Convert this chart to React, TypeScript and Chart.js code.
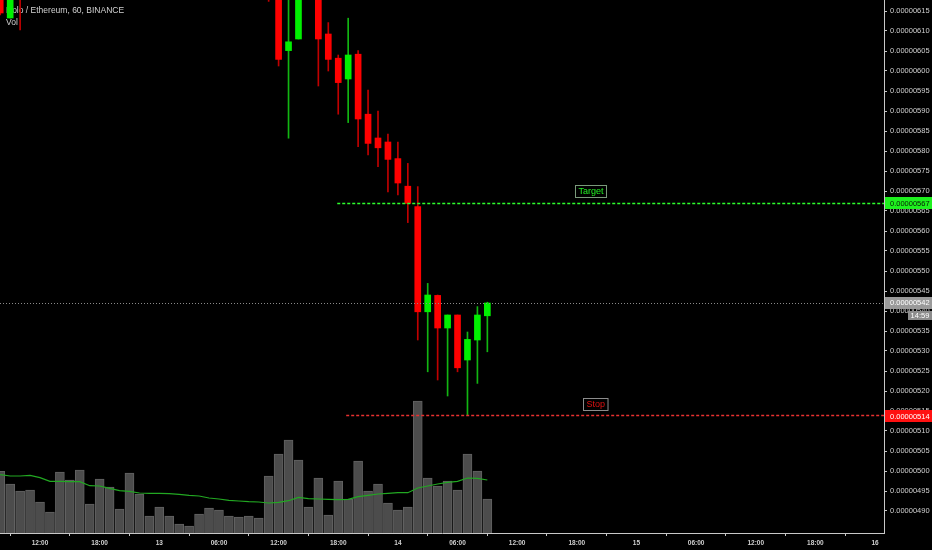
import React, { useEffect, useRef } from 'react';
import { Chart, registerables } from 'chart.js';

Chart.register(...registerables);

// Hourly candles, index 0 = 12th 08:00. Prices in units of 0.00000001 ETH.
// null = candle lies entirely above the visible price range.
const candleIndex = [
  0, 1, 2, 3, 4, 5, 6, 7, 8, 9, 10, 11, 12, 13, 14, 15, 16, 17, 18, 19, 20, 21, 22, 23, 24,
  25, 26, 27, 28, 29, 30, 31, 32, 33, 34, 35, 36, 37, 38, 39, 40, 41, 42, 43, 44, 45, 46, 47, 48, 49,
];
const N = null;
const priceOpen = [
  622, 613.25, 625, N, N, N, N, N, N, N, N, N, N, N, N, N, N, N, N, N, N, N, N, N, N,
  N, N, 624, 622, 605.1, 608, N, 621, 609.25, 603.2, 598, 604.2, 589.2, 583.25, 582.25,
  578.1, 571.2, 566.1, 539.8, 543.9, 535.75, 539, 527.75, 532.75, 538.8,
];
const priceHigh = [
  624, 624, 626, N, N, N, N, N, N, N, N, N, N, N, N, N, N, N, N, N, N, N, N, N, N,
  N, N, 626, 624, 620, 625, N, 622, 612.1, 604, 613.2, 605.1, 595.25, 590, 584.25,
  582.2, 576.9, 571.1, 546.9, 544, 539, 539, 534.75, 541.1, 542.2,
];
const priceLow = [
  614, 613.25, 610.25, N, N, N, N, N, N, N, N, N, N, N, N, N, N, N, N, N, N, N, N, N, N,
  N, N, 617.4, 601.25, 583.2, 608, N, 596.25, 600, 589.2, 587.1, 581.1, 579, 576.1, 569.8,
  569, 562.1, 532.75, 524.8, 522.75, 518.75, 524.8, 514, 521.9, 529.8,
];
const priceClose = [
  614.5, 622, 620, N, N, N, N, N, N, N, N, N, N, N, N, N, N, N, N, N, N, N, N, N, N,
  N, N, 620, 602.9, 607.3, 622, N, 608, 602.9, 597.1, 604, 588, 581.9, 580.8, 577.9,
  572, 566.9, 539.8, 544, 535.75, 539, 525.8, 532.9, 539, 542,
];
const volume = [
  61.6, 49, 42, 43, 31, 21, 61, 53, 63, 29, 54, 46, 24, 60, 39, 17, 26, 17, 9, 7,
  19, 25, 23, 17, 16, 17, 15, 57, 79, 93, 73, 26, 55, 18, 52, 34, 72, 42, 49, 30,
  23, 26, 132, 55, 47, 52, 43, 79, 62, 34,
];
const volumeMA = [
  58.3, 57, 57, 57.6, 55.3, 51.6, 51.6, 51.3, 51.3, 47.3, 47, 44.6, 42.3, 41.6, 40, 39.6,
  39.6, 39.3, 38.6, 37.6, 37, 35, 34, 32.6, 32, 31.3, 31, 30, 30.6, 32.3, 35.6, 34.3, 34,
  33.6, 33.3, 33.6, 36.3, 37.6, 39, 39.6, 40.3, 40.3, 45, 47, 49, 50.6, 51.6, 55, 54.6, 53,
];

const timeTickIndex = [4, 10, 16, 22, 28, 34, 40, 46, 52, 58, 64, 70, 76, 82, 88];
const timeTickLabels = [
  '12:00', '18:00', '13', '06:00', '12:00', '18:00', '14', '06:00', '12:00', '18:00',
  '15', '06:00', '12:00', '18:00', '16',
];
const priceTicks = [
  490, 495, 500, 505, 510, 515, 520, 525, 530, 535, 540, 545, 550, 555, 560, 565, 570,
  575, 580, 585, 590, 595, 600, 605, 610, 615,
];

const targetPrice = 567;
const stopPrice = 514;
const targetStart = 33.9;
const stopStart = 34.8;
const labelIndexTarget = 59.4;
const labelIndexStop = 59.9;
const countdown = '14:59';
const titleText = 'Holo / Ethereum, 60, BINANCE';

const fmt = (v: number) => (v * 1e-8).toFixed(8);

export default function App() {
  const ref = useRef<HTMLCanvasElement | null>(null);

  useEffect(() => {
    document.body.style.margin = '0';
    document.body.style.background = '#000';
    const canvas = ref.current;
    if (!canvas) return;

    const bodies: any[] = [];
    const bodyColors: string[] = [];
    const wicks: any[] = [];
    const wickColors: string[] = [];
    candleIndex.forEach((i) => {
      const o = priceOpen[i];
      const c = priceClose[i];
      const h = priceHigh[i];
      const l = priceLow[i];
      if (o == null || c == null || h == null || l == null) return;
      const up = c >= o;
      bodies.push({ x: i, y: [o, c] });
      bodyColors.push(up ? '#00f000' : '#ff0000');
      wicks.push({ x: i, y: [l, h] });
      wickColors.push(up ? '#12b512' : '#c00000');
    });
    const lastClose = priceClose[priceClose.length - 1] as number;

    const noPad = (s: any) => {
      s.paddingTop = 0;
      s.paddingBottom = 0;
      s.paddingLeft = 0;
      s.paddingRight = 0;
    };

    const plugin = {
      id: 'tvOverlay',
      beforeDraw(chart: any) {
        const { ctx, width, height } = chart;
        ctx.save();
        ctx.fillStyle = '#000';
        ctx.fillRect(0, 0, width, height);
        ctx.restore();
      },
      beforeDatasetsDraw(chart: any) {
        const { ctx } = chart;
        ctx.save();
        ctx.fillStyle = '#d2d2d2';
        ctx.font = '8.5px "Liberation Sans"';
        ctx.textBaseline = 'alphabetic';
        ctx.textAlign = 'left';
        ctx.fillText(titleText, 6, 13);
        ctx.fillText('Vol', 6, 25);
        ctx.restore();
      },
      afterDatasetsDraw(chart: any) {
        const { ctx, chartArea } = chart;
        const xs = chart.scales.x;
        const ys = chart.scales.y;
        ctx.save();
        const yc = Math.round(ys.getPixelForValue(lastClose)) + 0.5;
        ctx.strokeStyle = '#8a8a8a';
        ctx.lineWidth = 1;
        ctx.setLineDash([1, 2]);
        ctx.beginPath();
        ctx.moveTo(chartArea.left, yc);
        ctx.lineTo(chartArea.right, yc);
        ctx.stroke();
        const yt = Math.round(ys.getPixelForValue(targetPrice)) + 0.5;
        ctx.strokeStyle = '#2cff2c';
        ctx.lineWidth = 1.3;
        ctx.setLineDash([3, 2]);
        ctx.beginPath();
        ctx.moveTo(xs.getPixelForValue(targetStart), yt);
        ctx.lineTo(chartArea.right, yt);
        ctx.stroke();
        const yst = Math.round(ys.getPixelForValue(stopPrice)) + 0.5;
        ctx.strokeStyle = '#e83030';
        ctx.beginPath();
        ctx.moveTo(xs.getPixelForValue(stopStart), yst);
        ctx.lineTo(chartArea.right, yst);
        ctx.stroke();
        ctx.setLineDash([]);
        const drawLabel = (text: string, cx: number, bottom: number, color: string, border: string) => {
          ctx.font = '9px "Liberation Sans"';
          const w = ctx.measureText(text).width + 6;
          const h = 12;
          const x0 = Math.round(cx - w / 2) + 0.5;
          const y0 = Math.round(bottom - h) + 0.5;
          ctx.fillStyle = '#000';
          ctx.fillRect(x0, y0, w, h);
          ctx.strokeStyle = border;
          ctx.lineWidth = 1;
          ctx.strokeRect(x0, y0, w, h);
          ctx.fillStyle = color;
          ctx.textAlign = 'center';
          ctx.textBaseline = 'middle';
          ctx.fillText(text, x0 + w / 2, y0 + h / 2 + 0.5);
        };
        drawLabel('Target', xs.getPixelForValue(labelIndexTarget), yt - 7, '#22ee22', '#7a9a7a');
        drawLabel('Stop', xs.getPixelForValue(labelIndexStop), yst - 6, '#dd1111', '#8c8c8c');
        ctx.restore();
      },
      afterDraw(chart: any) {
        const { ctx, chartArea, width } = chart;
        const ys = chart.scales.y;
        ctx.save();
        ctx.font = '7.5px "Liberation Sans"';
        ctx.textBaseline = 'middle';
        ctx.textAlign = 'left';
        const box = (price: number, bg: string, fg: string, dy = 0) => {
          const y = ys.getPixelForValue(price) + dy;
          ctx.fillStyle = bg;
          ctx.fillRect(chartArea.right + 1, Math.round(y - 6), width - chartArea.right - 1, 12);
          ctx.fillStyle = fg;
          ctx.fillText(fmt(price), chartArea.right + 6, y + 0.5);
          return y;
        };
        box(targetPrice, '#1ef01e', '#062006');
        const yc = box(lastClose, '#9a9a9a', '#ffffff', -0.5);
        ctx.fillStyle = '#8c8c8c';
        ctx.fillRect(908, Math.round(yc + 8), width - 908, 9);
        ctx.fillStyle = '#ffffff';
        ctx.textAlign = 'center';
        ctx.fillText(countdown, (908 + width) / 2, Math.round(yc + 8) + 5);
        ctx.textAlign = 'left';
        box(stopPrice, '#ff1010', '#ffffff', 1);
        ctx.restore();
      },
    };

    const chart = new Chart(canvas, {
      type: 'bar',
      data: {
        datasets: [
          {
            type: 'bar',
            label: 'body',
            data: bodies,
            backgroundColor: bodyColors,
            borderWidth: 0,
            barThickness: 6,
            grouped: false,
            yAxisID: 'y',
            order: 0,
          } as any,
          {
            type: 'bar',
            label: 'wick',
            data: wicks,
            backgroundColor: wickColors,
            borderWidth: 0,
            barThickness: 1,
            grouped: false,
            yAxisID: 'y',
            order: 1,
          } as any,
          {
            type: 'line',
            label: 'vol ma',
            data: candleIndex.map((i) => ({ x: i, y: volumeMA[i] })),
            borderColor: '#22a822',
            borderWidth: 1.2,
            pointRadius: 0,
            tension: 0,
            yAxisID: 'vol',
            order: 2,
          } as any,
          {
            type: 'bar',
            label: 'volume',
            data: candleIndex.map((i) => ({ x: i, y: volume[i] })),
            backgroundColor: '#4c4c4c',
            borderColor: '#626262',
            borderWidth: 1,
            barThickness: 9,
            grouped: false,
            yAxisID: 'vol',
            order: 3,
          } as any,
        ],
      },
      options: {
        responsive: false,
        animation: false,
        devicePixelRatio: 1,
        layout: { padding: 0 },
        plugins: { legend: { display: false }, tooltip: { enabled: false } },
        scales: {
          x: {
            type: 'linear',
            min: -0.024,
            max: 88.9,
            offset: false,
            afterBuildTicks: (s: any) => {
              s.ticks = timeTickIndex.map((v) => ({ value: v }));
            },
            afterFit: (s: any) => {
              s.height = 17;
              noPad(s);
            },
            grid: { drawOnChartArea: false, drawTicks: true, tickLength: 3, color: '#c8c8c8' },
            border: { display: true, color: '#c8c8c8' },
            ticks: {
              autoSkip: false,
              maxRotation: 0,
              padding: 3,
              color: '#cfcfcf',
              font: { family: 'Liberation Sans', size: 6.5, weight: 'bold' },
              callback: (v: any) => {
                const k = timeTickIndex.indexOf(Number(v));
                return k >= 0 ? timeTickLabels[k] : '';
              },
            },
          },
          y: {
            type: 'linear',
            position: 'right',
            min: 484.5,
            max: 617.75,
            afterBuildTicks: (s: any) => {
              s.ticks = priceTicks.map((v) => ({ value: v }));
            },
            afterFit: (s: any) => {
              s.width = 48;
              noPad(s);
            },
            grid: { drawOnChartArea: false, drawTicks: true, tickLength: 3, color: '#c8c8c8' },
            border: { display: true, color: '#c8c8c8' },
            ticks: {
              autoSkip: false,
              padding: 3,
              color: '#cfcfcf',
              font: { family: 'Liberation Sans', size: 7.5 },
              callback: (v: any) => fmt(Number(v)),
            },
          },
          vol: {
            type: 'linear',
            display: false,
            min: 0,
            max: 533,
          },
        },
      } as any,
      plugins: [plugin],
    });

    return () => chart.destroy();
  }, []);

  return (
    <div style={{ width: 932, height: 550, background: '#000' }}>
      <canvas ref={ref} width={932} height={550} style={{ display: 'block' }} />
    </div>
  );
}
